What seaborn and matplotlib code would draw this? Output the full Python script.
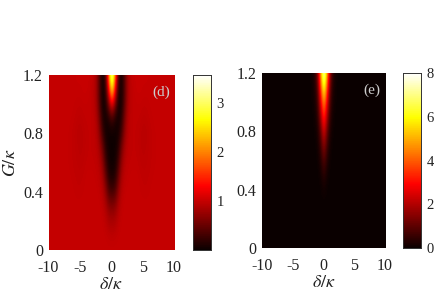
import numpy as np
import pandas as pd
import seaborn as sns
import matplotlib
matplotlib.use("Agg")
import matplotlib.pyplot as plt

sns.set_style("white")
plt.rcParams["font.family"] = ["Liberation Serif", "DejaVu Serif"]
plt.rcParams["mathtext.fontset"] = "stix"

# values, right half only (delta = 0 ... 10), maps are symmetric
delta_half = [0, 0.5, 1, 1.5, 2, 2.5, 3, 3.5, 4, 4.5, 5, 5.5, 6, 6.5, 7, 7.5, 8, 8.5, 9, 9.5, 10]
G_rows = [1.2, 1.1, 1.0, 0.9, 0.8, 0.7, 0.6, 0.5, 0.4, 0.3, 0.2, 0.1, 0]

d_half = [
    [3.55, 2.00, 0.35, 0.03, 0.40, 0.85, 0.97, 1.00, 1.02, 1.02, 1.01, 1.01, 1.00, 1.00, 1.00, 1.00, 1.00, 1.00, 1.00, 1.00, 1.00],
    [2.70, 1.30, 0.20, 0.03, 0.40, 0.83, 0.96, 0.99, 1.01, 1.01, 1.00, 1.00, 1.00, 1.00, 1.00, 1.00, 1.00, 1.00, 1.00, 1.00, 1.00],
    [1.20, 0.60, 0.10, 0.05, 0.45, 0.85, 0.96, 0.98, 0.99, 0.99, 0.98, 0.98, 0.99, 1.00, 1.00, 1.00, 1.00, 1.00, 1.00, 1.00, 1.00],
    [0.25, 0.12, 0.04, 0.15, 0.60, 0.90, 0.97, 0.98, 0.98, 0.97, 0.95, 0.96, 0.98, 0.99, 1.00, 1.00, 1.00, 1.00, 1.00, 1.00, 1.00],
    [0.03, 0.03, 0.06, 0.30, 0.72, 0.93, 0.97, 0.98, 0.97, 0.95, 0.93, 0.94, 0.96, 0.98, 0.99, 1.00, 1.00, 1.00, 1.00, 1.00, 1.00],
    [0.02, 0.03, 0.15, 0.55, 0.85, 0.95, 0.97, 0.98, 0.97, 0.95, 0.94, 0.95, 0.97, 0.98, 0.99, 1.00, 1.00, 1.00, 1.00, 1.00, 1.00],
    [0.03, 0.05, 0.30, 0.72, 0.92, 0.97, 0.98, 0.98, 0.98, 0.96, 0.95, 0.96, 0.97, 0.98, 0.99, 1.00, 1.00, 1.00, 1.00, 1.00, 1.00],
    [0.08, 0.15, 0.50, 0.85, 0.96, 0.98, 1.00, 1.00, 1.00, 0.98, 0.97, 0.97, 0.98, 0.99, 1.00, 1.00, 1.00, 1.00, 1.00, 1.00, 1.00],
    [0.30, 0.38, 0.72, 0.93, 0.98, 1.00, 1.00, 1.00, 1.00, 0.99, 0.98, 0.98, 0.99, 1.00, 1.00, 1.00, 1.00, 1.00, 1.00, 1.00, 1.00],
    [0.65, 0.70, 0.88, 0.97, 1.00, 1.00, 1.00, 1.00, 1.00, 1.00, 1.00, 1.00, 1.00, 1.00, 1.00, 1.00, 1.00, 1.00, 1.00, 1.00, 1.00],
    [0.85, 0.87, 0.95, 0.99, 1.00, 1.00, 1.00, 1.00, 1.00, 1.00, 1.00, 1.00, 1.00, 1.00, 1.00, 1.00, 1.00, 1.00, 1.00, 1.00, 1.00],
    [0.96, 0.97, 0.99, 1.00, 1.00, 1.00, 1.00, 1.00, 1.00, 1.00, 1.00, 1.00, 1.00, 1.00, 1.00, 1.00, 1.00, 1.00, 1.00, 1.00, 1.00],
    [1.00, 1.00, 1.00, 1.00, 1.00, 1.00, 1.00, 1.00, 1.00, 1.00, 1.00, 1.00, 1.00, 1.00, 1.00, 1.00, 1.00, 1.00, 1.00, 1.00, 1.00],
]
e_half = [
    [8.00, 5.00, 1.50, 0.30, 0.05, 0, 0, 0, 0, 0, 0, 0, 0, 0, 0, 0, 0, 0, 0, 0, 0],
    [6.50, 3.80, 1.00, 0.20, 0.03, 0, 0, 0, 0, 0, 0, 0, 0, 0, 0, 0, 0, 0, 0, 0, 0],
    [4.80, 2.70, 0.65, 0.12, 0.02, 0, 0, 0, 0, 0, 0, 0, 0, 0, 0, 0, 0, 0, 0, 0, 0],
    [3.60, 1.80, 0.40, 0.06, 0, 0, 0, 0, 0, 0, 0, 0, 0, 0, 0, 0, 0, 0, 0, 0, 0],
    [2.50, 1.10, 0.20, 0.03, 0, 0, 0, 0, 0, 0, 0, 0, 0, 0, 0, 0, 0, 0, 0, 0, 0],
    [1.60, 0.60, 0.10, 0, 0, 0, 0, 0, 0, 0, 0, 0, 0, 0, 0, 0, 0, 0, 0, 0, 0],
    [0.90, 0.30, 0.03, 0, 0, 0, 0, 0, 0, 0, 0, 0, 0, 0, 0, 0, 0, 0, 0, 0, 0],
    [0.40, 0.10, 0, 0, 0, 0, 0, 0, 0, 0, 0, 0, 0, 0, 0, 0, 0, 0, 0, 0, 0],
    [0.10, 0.02, 0, 0, 0, 0, 0, 0, 0, 0, 0, 0, 0, 0, 0, 0, 0, 0, 0, 0, 0],
    [0, 0, 0, 0, 0, 0, 0, 0, 0, 0, 0, 0, 0, 0, 0, 0, 0, 0, 0, 0, 0],
    [0, 0, 0, 0, 0, 0, 0, 0, 0, 0, 0, 0, 0, 0, 0, 0, 0, 0, 0, 0, 0],
    [0, 0, 0, 0, 0, 0, 0, 0, 0, 0, 0, 0, 0, 0, 0, 0, 0, 0, 0, 0, 0],
    [0, 0, 0, 0, 0, 0, 0, 0, 0, 0, 0, 0, 0, 0, 0, 0, 0, 0, 0, 0, 0],
]
x_ticks = [-10, -5, 0, 5, 10]
y_ticks = [1.2, 0.8, 0.4, 0]
y_tick_labels = ["1.2", "0.8", "0.4", "0"]
d_cbar_ticks = [1, 2, 3]
e_cbar_ticks = [0, 2, 4, 6, 8]
d_max = 3.57
e_max = 8


def to_frame(half):
    half = np.array(half, dtype=float)
    full = np.hstack([half[:, :0:-1], half])
    cols = [-v for v in delta_half[:0:-1]] + delta_half
    return pd.DataFrame(full, index=G_rows, columns=cols)


def draw_map(half, vmax, ax_box, cbar_box, cbar_ticks, tag):
    W, H = 436, 298
    ax = fig.add_axes([ax_box[0] / W, 1 - ax_box[3] / H, (ax_box[2] - ax_box[0]) / W, (ax_box[3] - ax_box[1]) / H])
    cax = fig.add_axes([cbar_box[0] / W, 1 - cbar_box[3] / H, (cbar_box[2] - cbar_box[0]) / W, (cbar_box[3] - cbar_box[1]) / H])
    df = to_frame(half)
    sns.heatmap(df, ax=ax, cbar_ax=cax, cmap="hot", vmin=0, vmax=vmax, xticklabels=False, yticklabels=False)
    nr, nc = df.shape
    # smooth the same table, the original map is a fine grid
    ax.imshow(df.values, extent=(0, nc, nr, 0), cmap="hot", vmin=0, vmax=vmax, aspect="auto",
              interpolation="bicubic", zorder=2)
    ax.set_xlim(0.5, nc - 0.5)
    ax.set_ylim(nr - 0.5, 0.5)
    ax.set_xticks([list(df.columns).index(t) + 0.5 for t in x_ticks])
    ax.set_xticklabels([str(t) for t in x_ticks], fontsize=11.5, color="#222222")
    ax.set_yticks([G_rows.index(t) + 0.5 for t in y_ticks])
    ax.set_yticklabels(y_tick_labels, fontsize=11.5, color="#222222")
    ax.tick_params(axis="x", length=0, pad=7)
    ax.tick_params(axis="y", length=0, pad=4)
    ax.set_xlabel(r"$\delta/\kappa$", fontsize=13, labelpad=0, color="#222222")
    ax.text(0.895, 0.9, tag, transform=ax.transAxes, color="#cccccc", fontsize=11, ha="center", va="center", zorder=3)
    for s in ax.spines.values():
        s.set_visible(False)
    cax.set_yticks(cbar_ticks)
    cax.set_yticklabels([str(t) for t in cbar_ticks], fontsize=10.5, color="#222222")
    cax.tick_params(length=1.5, width=0.5, direction="in", pad=4, right=True, left=False)
    for s in cax.spines.values():
        s.set_visible(True)
        s.set_linewidth(0.6)
        s.set_color("#333333")
    return ax


fig = plt.figure(figsize=(4.36, 2.98), dpi=100)
ax_d = draw_map(d_half, d_max, (48.5, 75, 174, 250), (193, 75, 211, 250), d_cbar_ticks, "(d)")
ax_e = draw_map(e_half, e_max, (262, 73, 385, 248), (403, 73, 421, 248), e_cbar_ticks, "(e)")
ax_d.set_ylabel(r"$G/\kappa$", fontsize=13, labelpad=3, color="#222222")
fig.savefig("out.png", dpi=100)
